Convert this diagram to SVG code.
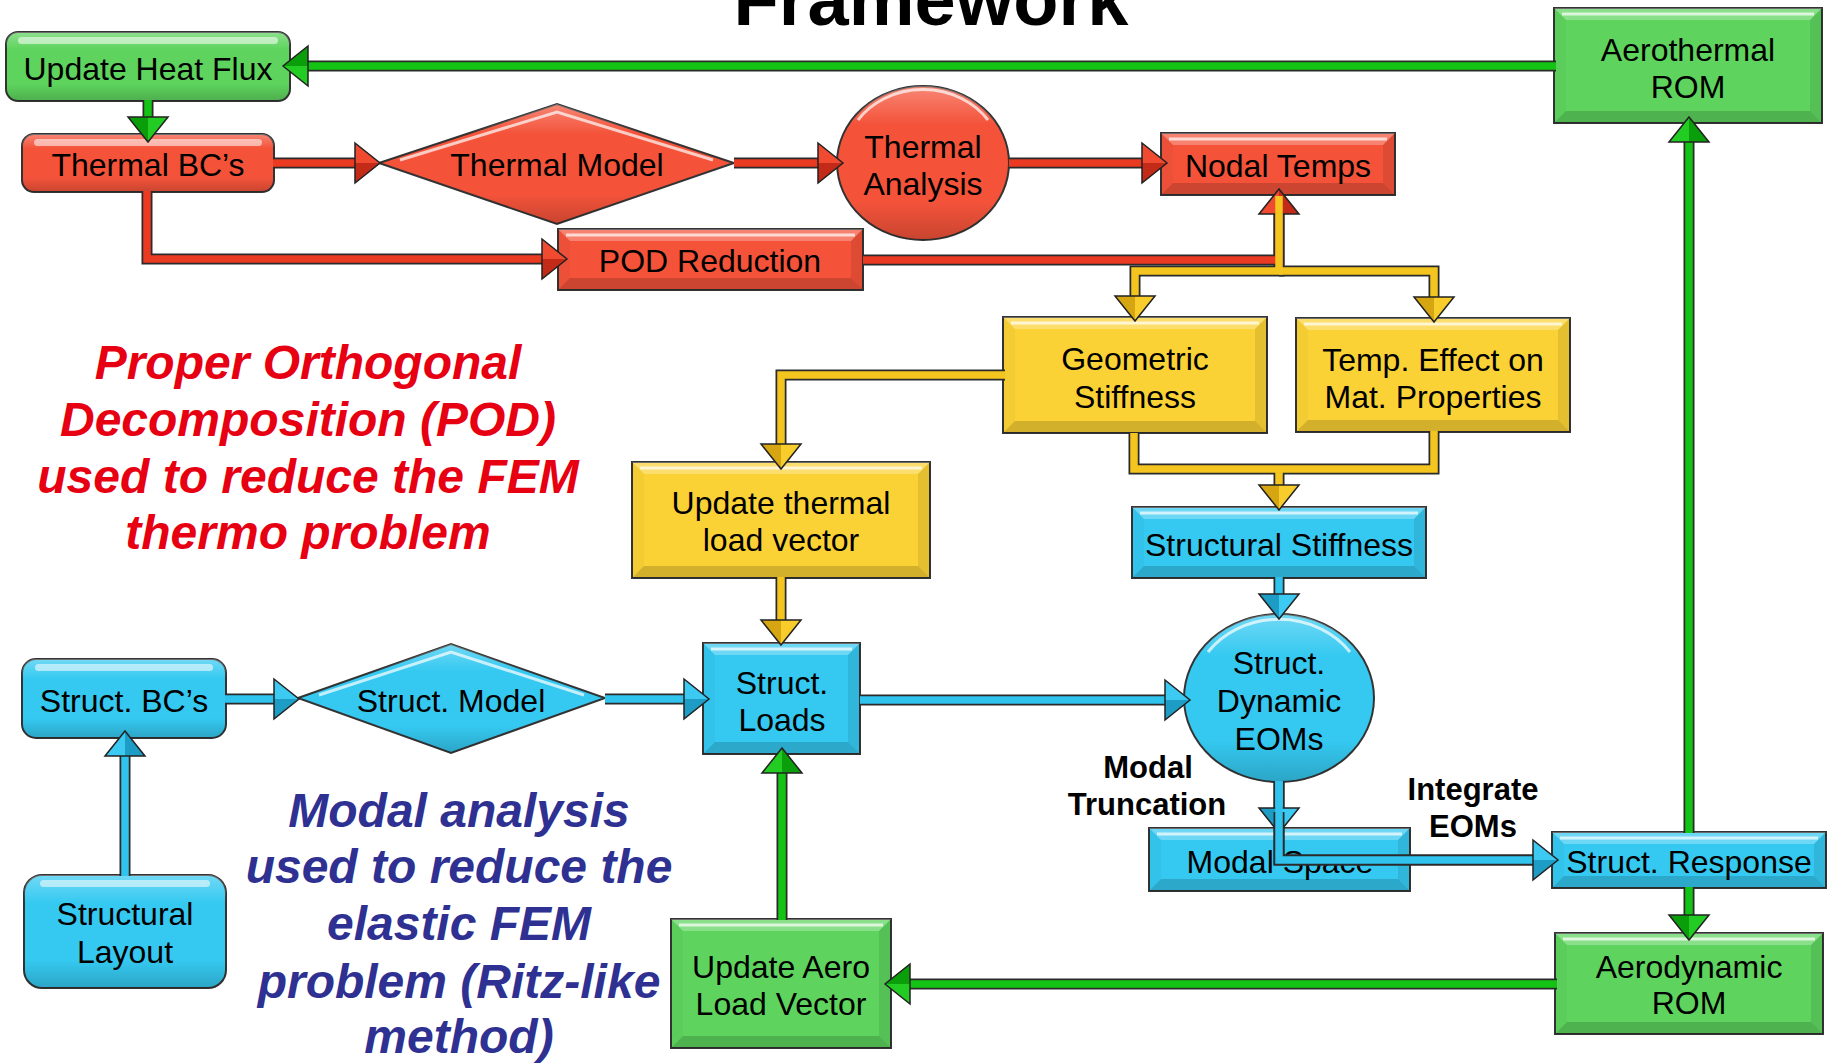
<svg xmlns="http://www.w3.org/2000/svg" width="1828" height="1063" viewBox="0 0 1828 1063">
<defs>
<linearGradient id="shade" x1="0" y1="0" x2="0" y2="1">
<stop offset="0" stop-color="#fff" stop-opacity="0.3"/>
<stop offset="0.25" stop-color="#fff" stop-opacity="0"/>
<stop offset="0.75" stop-color="#000" stop-opacity="0"/>
<stop offset="1" stop-color="#000" stop-opacity="0.18"/>
</linearGradient>
<marker id="ag" markerUnits="userSpaceOnUse" markerWidth="30" markerHeight="46" viewBox="-2 -23 30 46" refX="0" refY="0" orient="auto" overflow="visible">
<path d="M0,-20 L25,0 L0,20 Z" fill="#22cc22"/><path d="M0,0 L25,0 L0,20 Z" fill="#0b9e0b"/><path d="M0,-20 L25,0 L0,20 Z" fill="none" stroke="#222" stroke-width="1.5"/>
</marker>
<marker id="ar" markerUnits="userSpaceOnUse" markerWidth="30" markerHeight="46" viewBox="-2 -23 30 46" refX="0" refY="0" orient="auto" overflow="visible">
<path d="M0,-20 L25,0 L0,20 Z" fill="#f04a30"/><path d="M0,0 L25,0 L0,20 Z" fill="#c42a18"/><path d="M0,-20 L25,0 L0,20 Z" fill="none" stroke="#222" stroke-width="1.5"/>
</marker>
<marker id="ay" markerUnits="userSpaceOnUse" markerWidth="30" markerHeight="46" viewBox="-2 -23 30 46" refX="0" refY="0" orient="auto" overflow="visible">
<path d="M0,-20 L25,0 L0,20 Z" fill="#f8cc2a"/><path d="M0,0 L25,0 L0,20 Z" fill="#d6a512"/><path d="M0,-20 L25,0 L0,20 Z" fill="none" stroke="#222" stroke-width="1.5"/>
</marker>
<marker id="ab" markerUnits="userSpaceOnUse" markerWidth="30" markerHeight="46" viewBox="-2 -23 30 46" refX="0" refY="0" orient="auto" overflow="visible">
<path d="M0,-20 L25,0 L0,20 Z" fill="#3ccaf2"/><path d="M0,0 L25,0 L0,20 Z" fill="#1d9cc6"/><path d="M0,-20 L25,0 L0,20 Z" fill="none" stroke="#222" stroke-width="1.5"/>
</marker>
</defs>
<style>
.t{font-family:"Liberation Sans",Arial,sans-serif;font-size:32px;fill:#000;text-anchor:middle}
.lb{font-family:"Liberation Sans",Arial,sans-serif;font-size:31px;font-weight:bold;fill:#000;text-anchor:middle}
.ttl{font-family:"Liberation Sans",Arial,sans-serif;font-size:74px;font-weight:bold;fill:#000;text-anchor:middle}
.note{font-family:"Liberation Sans",Arial,sans-serif;font-size:48px;font-weight:bold;font-style:italic;text-anchor:middle}
.red{fill:#e60012}
.navy{fill:#2e3192}
.G{fill:#5ed45e;stroke:#333;stroke-width:2}
.R{fill:#f4533a;stroke:#333;stroke-width:2}
.Y{fill:#fbd235;stroke:#333;stroke-width:2}
.B{fill:#35c9f1;stroke:#333;stroke-width:2}
.sh{fill:url(#shade);stroke:none}
.bt{fill:#fff;opacity:0.28}
.bb{fill:#000;opacity:0.16}
.br{fill:#000;opacity:0.09}
.bl{fill:#000;opacity:0.03}
.hl{stroke:#fff;stroke-width:3;opacity:0.7;fill:none}
.hr{fill:#fff;opacity:0.55}
.o{fill:none;stroke:#2b2b2b;stroke-width:11}
.cg{fill:none;stroke:#14c414;stroke-width:7.5}
.cr{fill:none;stroke:#ea3a22;stroke-width:7.5}
.cy{fill:none;stroke:#f4c41f;stroke-width:7.5}
.cb{fill:none;stroke:#2fc3ee;stroke-width:7.5}
</style>
<rect width="1828" height="1063" fill="#fff"/>
<text class="ttl" x="931" y="25">Framework</text>

<g id="nodes">
<g id="n-heatflux">
<rect class="G" x="6" y="32" width="284" height="69" rx="12"/><rect class="sh" x="6" y="32" width="284" height="69" rx="12"/>
<rect class="hr" x="18" y="37" width="260" height="7" rx="3.5"/>
<text class="t" x="148" y="80">Update Heat Flux</text>
</g>
<g id="n-thermalbc">
<rect class="R" x="22" y="134" width="252" height="58" rx="12"/><rect class="sh" x="22" y="134" width="252" height="58" rx="12"/>
<rect class="hr" x="34" y="139" width="228" height="7" rx="3.5"/>
<text class="t" x="148" y="176">Thermal BC’s</text>
</g>
<g id="n-thermalmodel">
<polygon class="R" points="379,163 557,104 734,163 557,224"/><polygon class="sh" points="379,163 557,104 734,163 557,224"/>
<polyline class="hl" points="400,160 557,112 713,160"/>
<text class="t" x="557" y="176">Thermal Model</text>
</g>
<g id="n-thermalanalysis">
<ellipse class="R" cx="923" cy="163" rx="86" ry="77"/><ellipse class="sh" cx="923" cy="163" rx="86" ry="77"/>
<path class="hl" d="M858,120 A78,68 0 0 1 988,120"/>
<text class="t" x="923" y="158">Thermal</text><text class="t" x="923" y="195">Analysis</text>
</g>
<g id="n-nodaltemps">
<rect class="R" x="1161" y="133" width="234" height="62"/>
<polygon class="bt" points="1161,133 1395,133 1383,145 1173,145"/><polygon class="bb" points="1161,195 1395,195 1383,183 1173,183"/><polygon class="br" points="1395,133 1395,195 1383,183 1383,145"/><polygon class="bl" points="1161,133 1161,195 1173,183 1173,145"/>
<line class="hl" x1="1169" y1="139" x2="1387" y2="139"/>
<text class="t" x="1278" y="177">Nodal Temps</text>
</g>
<g id="n-pod">
<rect class="R" x="558" y="229" width="305" height="61"/>
<polygon class="bt" points="558,229 863,229 851,241 570,241"/><polygon class="bb" points="558,290 863,290 851,278 570,278"/><polygon class="br" points="863,229 863,290 851,278 851,241"/><polygon class="bl" points="558,229 558,290 570,278 570,241"/>
<line class="hl" x1="566" y1="235" x2="855" y2="235"/>
<text class="t" x="710" y="272">POD Reduction</text>
</g>
<g id="n-aerothermal">
<rect class="G" x="1554" y="8" width="268" height="115"/>
<polygon class="bt" points="1554,8 1822,8 1810,20 1566,20"/><polygon class="bb" points="1554,123 1822,123 1810,111 1566,111"/><polygon class="br" points="1822,8 1822,123 1810,111 1810,20"/><polygon class="bl" points="1554,8 1554,123 1566,111 1566,20"/>
<line class="hl" x1="1562" y1="14" x2="1814" y2="14"/>
<text class="t" x="1688" y="61">Aerothermal</text><text class="t" x="1688" y="98">ROM</text>
</g>
<g id="n-geometric">
<rect class="Y" x="1003" y="317" width="264" height="116"/>
<polygon class="bt" points="1003,317 1267,317 1255,329 1015,329"/><polygon class="bb" points="1003,433 1267,433 1255,421 1015,421"/><polygon class="br" points="1267,317 1267,433 1255,421 1255,329"/><polygon class="bl" points="1003,317 1003,433 1015,421 1015,329"/>
<line class="hl" x1="1011" y1="323" x2="1259" y2="323"/>
<text class="t" x="1135" y="370">Geometric</text><text class="t" x="1135" y="408">Stiffness</text>
</g>
<g id="n-tempeffect">
<rect class="Y" x="1296" y="318" width="274" height="114"/>
<polygon class="bt" points="1296,318 1570,318 1558,330 1308,330"/><polygon class="bb" points="1296,432 1570,432 1558,420 1308,420"/><polygon class="br" points="1570,318 1570,432 1558,420 1558,330"/><polygon class="bl" points="1296,318 1296,432 1308,420 1308,330"/>
<line class="hl" x1="1304" y1="324" x2="1562" y2="324"/>
<text class="t" x="1433" y="371">Temp. Effect on</text><text class="t" x="1433" y="408">Mat. Properties</text>
</g>
<g id="n-updatethermal">
<rect class="Y" x="632" y="462" width="298" height="116"/>
<polygon class="bt" points="632,462 930,462 918,474 644,474"/><polygon class="bb" points="632,578 930,578 918,566 644,566"/><polygon class="br" points="930,462 930,578 918,566 918,474"/><polygon class="bl" points="632,462 632,578 644,566 644,474"/>
<line class="hl" x1="640" y1="468" x2="922" y2="468"/>
<text class="t" x="781" y="514">Update thermal</text><text class="t" x="781" y="551">load vector</text>
</g>
<g id="n-structstiff">
<rect class="B" x="1132" y="507" width="294" height="71"/>
<polygon class="bt" points="1132,507 1426,507 1414,519 1144,519"/><polygon class="bb" points="1132,578 1426,578 1414,566 1144,566"/><polygon class="br" points="1426,507 1426,578 1414,566 1414,519"/><polygon class="bl" points="1132,507 1132,578 1144,566 1144,519"/>
<line class="hl" x1="1140" y1="513" x2="1418" y2="513"/>
<text class="t" x="1279" y="556">Structural Stiffness</text>
</g>
<g id="n-structbc">
<rect class="B" x="22" y="659" width="204" height="79" rx="14"/><rect class="sh" x="22" y="659" width="204" height="79" rx="14"/>
<rect class="hr" x="35" y="664" width="178" height="7" rx="3.5"/>
<text class="t" x="124" y="712">Struct. BC’s</text>
</g>
<g id="n-structmodel">
<polygon class="B" points="298,698 451,644 605,698 451,753"/><polygon class="sh" points="298,698 451,644 605,698 451,753"/>
<polyline class="hl" points="319,695 451,652 584,695"/>
<text class="t" x="451" y="712">Struct. Model</text>
</g>
<g id="n-structloads">
<rect class="B" x="703" y="643" width="157" height="111"/>
<polygon class="bt" points="703,643 860,643 848,655 715,655"/><polygon class="bb" points="703,754 860,754 848,742 715,742"/><polygon class="br" points="860,643 860,754 848,742 848,655"/><polygon class="bl" points="703,643 703,754 715,742 715,655"/>
<line class="hl" x1="711" y1="649" x2="852" y2="649"/>
<text class="t" x="782" y="694">Struct.</text><text class="t" x="782" y="731">Loads</text>
</g>
<g id="n-eoms">
<ellipse class="B" cx="1279" cy="698" rx="95" ry="84"/><ellipse class="sh" cx="1279" cy="698" rx="95" ry="84"/>
<path class="hl" d="M1208,652 A86,75 0 0 1 1350,652"/>
<text class="t" x="1279" y="674">Struct.</text><text class="t" x="1279" y="712">Dynamic</text><text class="t" x="1279" y="750">EOMs</text>
</g>
<g id="n-modalspace">
<rect class="B" x="1149" y="828" width="261" height="63"/>
<polygon class="bt" points="1149,828 1410,828 1398,840 1161,840"/><polygon class="bb" points="1149,891 1410,891 1398,879 1161,879"/><polygon class="br" points="1410,828 1410,891 1398,879 1398,840"/><polygon class="bl" points="1149,828 1149,891 1161,879 1161,840"/>
<line class="hl" x1="1157" y1="834" x2="1402" y2="834"/>
<text class="t" x="1280" y="873">Modal Space</text>
</g>
<g id="n-structresponse">
<rect class="B" x="1552" y="832" width="274" height="56"/>
<polygon class="bt" points="1552,832 1826,832 1814,844 1564,844"/><polygon class="bb" points="1552,888 1826,888 1814,876 1564,876"/><polygon class="br" points="1826,832 1826,888 1814,876 1814,844"/><polygon class="bl" points="1552,832 1552,888 1564,876 1564,844"/>
<line class="hl" x1="1560" y1="838" x2="1818" y2="838"/>
<text class="t" x="1689" y="873">Struct. Response</text>
</g>
<g id="n-aerodynamic">
<rect class="G" x="1555" y="933" width="268" height="101"/>
<polygon class="bt" points="1555,933 1823,933 1811,945 1567,945"/><polygon class="bb" points="1555,1034 1823,1034 1811,1022 1567,1022"/><polygon class="br" points="1823,933 1823,1034 1811,1022 1811,945"/><polygon class="bl" points="1555,933 1555,1034 1567,1022 1567,945"/>
<line class="hl" x1="1563" y1="939" x2="1815" y2="939"/>
<text class="t" x="1689" y="978">Aerodynamic</text><text class="t" x="1689" y="1014">ROM</text>
</g>
<g id="n-updateaero">
<rect class="G" x="671" y="919" width="220" height="129"/>
<polygon class="bt" points="671,919 891,919 879,931 683,931"/><polygon class="bb" points="671,1048 891,1048 879,1036 683,1036"/><polygon class="br" points="891,919 891,1048 879,1036 879,931"/><polygon class="bl" points="671,919 671,1048 683,1036 683,931"/>
<line class="hl" x1="679" y1="925" x2="883" y2="925"/>
<text class="t" x="781" y="978">Update Aero</text><text class="t" x="781" y="1015">Load Vector</text>
</g>
<g id="n-structlayout">
<rect class="B" x="24" y="875" width="202" height="113" rx="18"/><rect class="sh" x="24" y="875" width="202" height="113" rx="18"/>
<rect class="hr" x="40" y="880" width="170" height="7" rx="3.5"/>
<text class="t" x="125" y="925">Structural</text><text class="t" x="125" y="963">Layout</text>
</g>
</g>

<g id="connectors">
<g id="outlines">
<path class="o" d="M1556,66 H308"/>
<path class="o" d="M148,100 V117"/>
<path class="o" d="M273,163 H355"/>
<path class="o" d="M734,163 H818"/>
<path class="o" d="M1009,163 H1142"/>
<path class="o" d="M147,191 V259 H542"/>
<path class="o" d="M863,260 H1279 V214"/>
<path class="o" d="M1279,196 V271 H1135 V296"/>
<path class="o" d="M1279,271 H1434 V297"/>
<path class="o" d="M1005,375 H781 V444"/>
<path class="o" d="M1134,433 V469 H1434 V431"/>
<path class="o" d="M1279,469 V485"/>
<path class="o" d="M781,577 V620"/>
<path class="o" d="M1279,577 V594"/>
<path class="o" d="M225,699 H274"/>
<path class="o" d="M605,699 H684"/>
<path class="o" d="M860,700 H1165"/>
<path class="o" d="M125,876 V756"/>
<path class="o" d="M1279,781 V808"/>
<path class="o" d="M1279,781 V860 H1533"/>
<path class="o" d="M782,920 V773"/>
<path class="o" d="M1557,984 H910"/>
<path class="o" d="M1689,833 V142"/>
<path class="o" d="M1689,887 V915"/>
</g>
<path class="cg" d="M1556,66 H308" marker-end="url(#ag)"/>
<path class="cg" d="M148,100 V117" marker-end="url(#ag)"/>
<path class="cr" d="M273,163 H355" marker-end="url(#ar)"/>
<path class="cr" d="M734,163 H818" marker-end="url(#ar)"/>
<path class="cr" d="M1009,163 H1142" marker-end="url(#ar)"/>
<path class="cr" d="M147,191 V259 H542" marker-end="url(#ar)"/>
<path class="cr" d="M863,260 H1279 V214" marker-end="url(#ar)"/>
<path class="cy" d="M1279,196 V271 H1135 V296" marker-end="url(#ay)"/>
<path class="cy" d="M1279,271 H1434 V297" marker-end="url(#ay)"/>
<path class="cy" d="M1005,375 H781 V444" marker-end="url(#ay)"/>
<path class="cy" d="M1134,433 V469 H1434 V431"/>
<path class="cy" d="M1279,469 V485" marker-end="url(#ay)"/>
<path class="cy" d="M781,577 V620" marker-end="url(#ay)"/>
<path class="cb" d="M1279,577 V594" marker-end="url(#ab)"/>
<path class="cb" d="M225,699 H274" marker-end="url(#ab)"/>
<path class="cb" d="M605,699 H684" marker-end="url(#ab)"/>
<path class="cb" d="M860,700 H1165" marker-end="url(#ab)"/>
<path class="cb" d="M125,876 V756" marker-end="url(#ab)"/>
<path class="cb" d="M1279,781 V808" marker-end="url(#ab)"/>
<path class="o" d="M1279,812 V860 H1533"/>
<path class="cb" d="M1279,781 V860 H1533" marker-end="url(#ab)"/>
<path class="cg" d="M782,920 V773" marker-end="url(#ag)"/>
<path class="cg" d="M1557,984 H910" marker-end="url(#ag)"/>
<path class="cg" d="M1689,833 V142" marker-end="url(#ag)"/>
<path class="cg" d="M1689,887 V915" marker-end="url(#ag)"/>
</g>

<g id="labels">
<text class="lb" x="1148" y="778">Modal</text>
<text class="lb" x="1147" y="815">Truncation</text>
<text class="lb" x="1473" y="800">Integrate</text>
<text class="lb" x="1473" y="837">EOMs</text>
<text class="note red" x="308" y="379">Proper Orthogonal</text>
<text class="note red" x="308" y="436">Decomposition (POD)</text>
<text class="note red" x="308" y="493">used to reduce the FEM</text>
<text class="note red" x="308" y="549">thermo problem</text>
<text class="note navy" x="459" y="827">Modal analysis</text>
<text class="note navy" x="459" y="883">used to reduce the</text>
<text class="note navy" x="459" y="940">elastic FEM</text>
<text class="note navy" x="459" y="998">problem (Ritz-like</text>
<text class="note navy" x="459" y="1053">method)</text>
</g>
</svg>
